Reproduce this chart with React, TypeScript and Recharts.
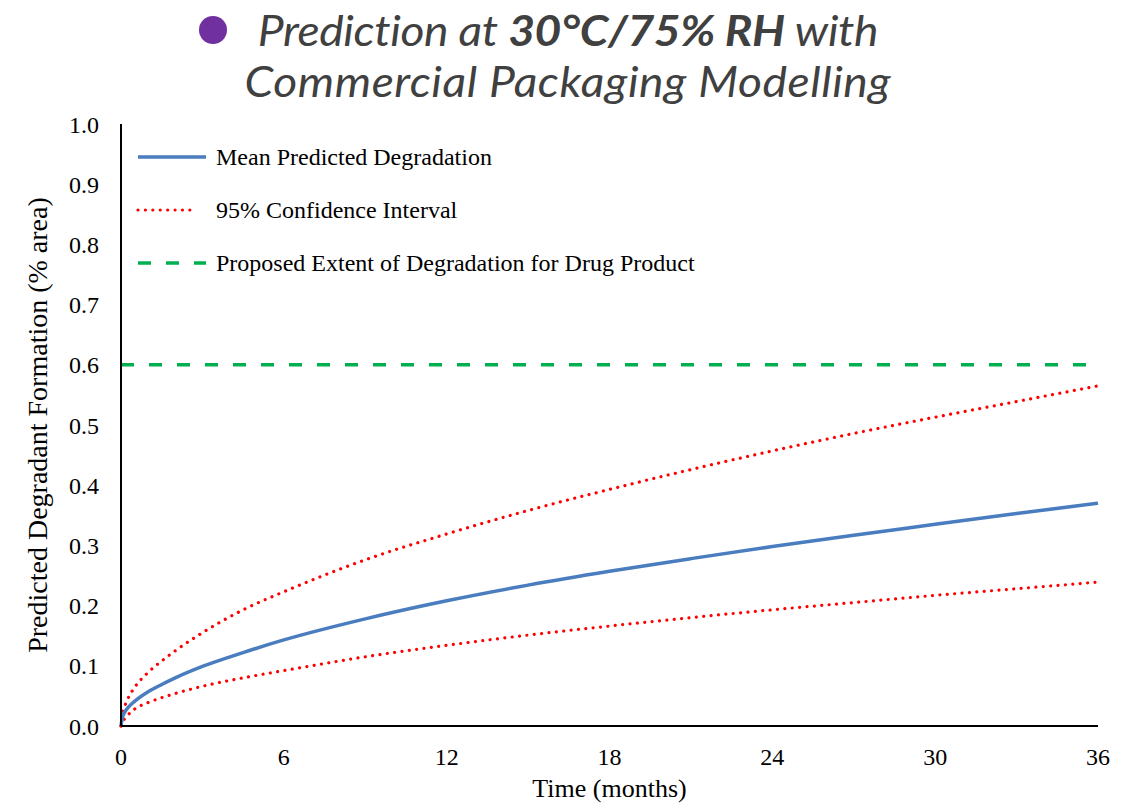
import React from 'react';
import { LineChart, Line, XAxis, YAxis, Legend } from 'recharts';

// Time points (months) and predicted degradant levels (% area)
const months = [0, 0.05, 0.1, 0.25, 0.5, 1, 1.5, 2, 3, 4.5, 6, 9, 12, 15, 18, 21, 24, 27, 30, 33, 36];
const meanPredicted = [0, 0.014, 0.02, 0.03, 0.041, 0.057, 0.069, 0.08, 0.099, 0.122, 0.143, 0.178, 0.208, 0.234, 0.257, 0.278, 0.298, 0.317, 0.335, 0.353, 0.37];
const upperCI = [0, 0.02, 0.028, 0.045, 0.064, 0.089, 0.108, 0.125, 0.155, 0.193, 0.223, 0.276, 0.319, 0.358, 0.393, 0.426, 0.457, 0.486, 0.513, 0.539, 0.565];
const lowerCI = [0, 0.006, 0.01, 0.018, 0.028, 0.039, 0.047, 0.054, 0.066, 0.08, 0.092, 0.115, 0.134, 0.151, 0.166, 0.18, 0.193, 0.205, 0.217, 0.228, 0.239];
const proposedLimit = 0.6;

const xTicks = [0, 6, 12, 18, 24, 30, 36];
const yTicks = [0, 0.1, 0.2, 0.3, 0.4, 0.5, 0.6, 0.7, 0.8, 0.9, 1.0];

const legendLabels = [
  'Mean Predicted Degradation',
  '95% Confidence Interval',
  'Proposed Extent of Degradation for Drug Product',
];

const BLUE = '#4A7DBF';
const RED = '#FF0000';
const GREEN = '#00B050';
const SERIF = '"Liberation Serif", "Times New Roman", serif';

const data = months.map((m, i) => ({
  month: m,
  mean: meanPredicted[i],
  upper: upperCI[i],
  lower: lowerCI[i],
  limit: proposedLimit,
}));

const legendStyles = [
  { stroke: BLUE, strokeWidth: 3.5, strokeDasharray: undefined as string | undefined, strokeLinecap: 'butt' as const, x2: 70 },
  { stroke: RED, strokeWidth: 3.2, strokeDasharray: '0.01 7.4', strokeLinecap: 'round' as const, x2: 56 },
  { stroke: GREEN, strokeWidth: 3.5, strokeDasharray: '13 15', strokeLinecap: 'butt' as const, x2: 70 },
];

const renderLegend = () => (
  <div style={{ position: 'relative', width: 620, height: 150 }}>
    {legendLabels.map((label, i) => (
      <div
        key={label}
        style={{
          position: 'absolute',
          left: 0,
          top: i * 53,
          height: 34,
          display: 'flex',
          alignItems: 'center',
          whiteSpace: 'nowrap',
        }}
      >
        <svg width={72} height={10} style={{ display: 'block' }}>
          <line
            x1={2}
            x2={legendStyles[i].x2}
            y1={5}
            y2={5}
            stroke={legendStyles[i].stroke}
            strokeWidth={legendStyles[i].strokeWidth}
            strokeDasharray={legendStyles[i].strokeDasharray}
            strokeLinecap={legendStyles[i].strokeLinecap}
          />
        </svg>
        <span style={{ marginLeft: 8, fontFamily: SERIF, fontSize: 24, color: '#000' }}>{label}</span>
      </div>
    ))}
  </div>
);

const titleLine: React.CSSProperties = {
  display: 'inline-block',
  transform: 'scaleX(1.1)',
  transformOrigin: 'center',
};

export default function App() {
  return (
    <div style={{ position: 'absolute', left: 0, top: 0, width: 1135, height: 804, background: '#fff' }}>
      <div
        style={{
          position: 'absolute',
          left: 0,
          top: 0,
          width: 1135,
          textAlign: 'center',
          fontFamily: 'Lato, "Open Sans", sans-serif',
          fontStyle: 'italic',
          fontSize: 42,
          lineHeight: '51px',
          color: '#404040',
          paddingTop: 5,
          whiteSpace: 'nowrap',
        }}
      >
        <div style={{ position: 'relative', height: 51 }}>
          <svg width={30} height={30} style={{ position: 'absolute', left: 198, top: 10 }}>
            <circle cx={15} cy={15} r={14} fill="#7030A0" />
          </svg>
          <span style={{ ...titleLine, letterSpacing: -0.35 }}>
            Prediction at <b>30°C/75% RH</b> with
          </span>
        </div>
        <div style={{ height: 51 }}>
          <span style={{ ...titleLine, letterSpacing: 0.5 }}>Commercial Packaging Modelling</span>
        </div>
      </div>
      <LineChart
        width={1135}
        height={804}
        data={data}
        margin={{ top: 124, right: 37, bottom: 0, left: 0 }}
        style={{ position: 'absolute', left: 0, top: 0 }}
      >
        <XAxis
          dataKey="month"
          type="number"
          domain={[0, 36]}
          ticks={xTicks}
          height={78}
          axisLine={{ stroke: '#000', strokeWidth: 2 }}
          tickLine={false}
          tickMargin={16}
          tick={{ fill: '#000', fontSize: 24, fontFamily: SERIF }}
          label={{
            value: 'Time (months)',
            position: 'insideBottom',
            offset: 7,
            style: { fill: '#000', fontSize: 26, fontFamily: SERIF },
          }}
        />
        <YAxis
          type="number"
          domain={[0, 1]}
          ticks={yTicks}
          width={121}
          axisLine={{ stroke: '#000', strokeWidth: 2 }}
          tickLine={false}
          tickMargin={16}
          tickFormatter={(v: number) => v.toFixed(1)}
          tick={{ fill: '#000', fontSize: 24, fontFamily: SERIF }}
          label={{
            value: 'Predicted Degradant Formation  (% area)',
            angle: -90,
            position: 'insideLeft',
            offset: 37,
            style: { textAnchor: 'middle', fill: '#000', fontSize: 28, fontFamily: SERIF, whiteSpace: 'pre' },
          }}
        />
        <Legend
          layout="vertical"
          align="center"
          verticalAlign="middle"
          wrapperStyle={{ left: 136, top: 140, width: 620 }}
          content={renderLegend}
        />
        <Line
          dataKey="limit"
          type="linear"
          stroke={GREEN}
          strokeWidth={3.5}
          strokeDasharray="13 15"
          dot={false}
          activeDot={false}
          isAnimationActive={false}
        />
        <Line
          dataKey="upper"
          type="monotone"
          stroke={RED}
          strokeWidth={3.2}
          strokeDasharray="0.01 7.4"
          strokeLinecap="round"
          dot={false}
          activeDot={false}
          isAnimationActive={false}
        />
        <Line
          dataKey="lower"
          type="monotone"
          stroke={RED}
          strokeWidth={3.2}
          strokeDasharray="0.01 7.4"
          strokeLinecap="round"
          dot={false}
          activeDot={false}
          isAnimationActive={false}
        />
        <Line
          dataKey="mean"
          type="monotone"
          stroke={BLUE}
          strokeWidth={3.5}
          dot={false}
          activeDot={false}
          isAnimationActive={false}
        />
      </LineChart>
    </div>
  );
}
